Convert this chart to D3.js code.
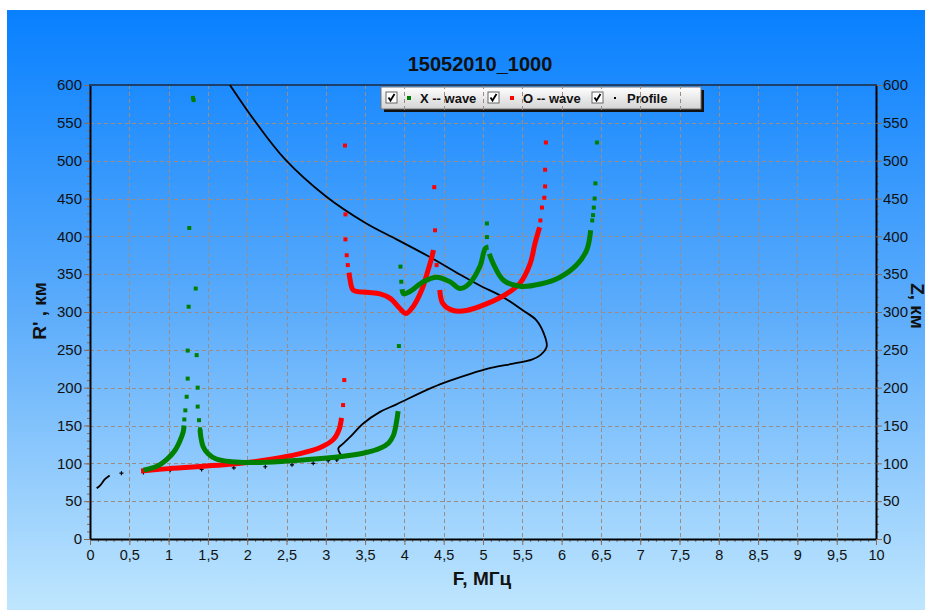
<!DOCTYPE html>
<html>
<head>
<meta charset="utf-8">
<script src="https://cdn.jsdelivr.net/npm/d3@7"></script>
<style>
  body { margin: 0; background: #fff; }
  svg { display: block; font-family: "Liberation Sans", Arial, sans-serif; }
</style>
</head>
<body>
<div id="chart"></div>
<script>
// ---- data (F in MHz, height in km) ----
const title = '15052010_1000';
const xTicks = [0, 0.5, 1, 1.5, 2, 2.5, 3, 3.5, 4, 4.5, 5, 5.5, 6, 6.5, 7, 7.5, 8, 8.5, 9, 9.5, 10];
const xTickLabels = ['0', '0,5', '1', '1,5', '2', '2,5', '3', '3,5', '4', '4,5', '5', '5,5', '6', '6,5', '7', '7,5', '8', '8,5', '9', '9,5', '10'];
const yTicks = [0, 50, 100, 150, 200, 250, 300, 350, 400, 450, 500, 550, 600];

// X -- wave (green)
const xwaveCurve1 = [[0.68, 91], [0.85, 96], [0.975, 105], [1.08, 117], [1.145, 130], [1.187, 142], [1.197, 150]];
const xwaveCurve2 = [[1.40, 145], [1.41, 135], [1.44, 122], [1.5, 113], [1.6, 106], [1.8, 102], [2.1, 101], [2.5, 103],
  [2.9, 106], [3.27, 110], [3.5, 114], [3.69, 120], [3.8, 127], [3.86, 137], [3.9, 155], [3.92, 169]];
const xwaveCurve3 = [[3.97, 330], [3.99, 324], [4.07, 327], [4.24, 340], [4.41, 346], [4.58, 340], [4.71, 331],
  [4.83, 338], [4.96, 360], [5.03, 384], [5.07, 386]];
const xwaveCurve4 = [[5.08, 377], [5.13, 364], [5.26, 342], [5.47, 334], [5.73, 337], [5.98, 346], [6.19, 362],
  [6.32, 382], [6.37, 408]];
const xwaveDots = [[1.2, 158], [1.213, 170], [1.23, 188], [1.243, 212], [1.243, 249], [1.255, 307], [1.263, 411],
  [1.31, 583], [1.318, 580], [1.345, 331], [1.357, 243], [1.37, 200], [1.37, 175], [1.387, 157], [1.40, 145],
  [3.93, 255], [3.95, 360], [3.96, 340], [5.05, 399], [5.05, 417],
  [6.39, 421], [6.40, 428], [6.41, 438], [6.42, 450], [6.43, 470], [6.45, 524]];

// O -- wave (red)
const owaveCurve1 = [[0.65, 90], [1.0, 93], [1.7, 98], [2.0, 101], [2.5, 109], [2.93, 121], [3.1, 132], [3.17, 145], [3.2, 160]];
const owaveCurve2 = [[3.295, 352], [3.31, 342], [3.35, 329], [3.52, 326], [3.69, 324], [3.82, 318], [3.94, 305],
  [4.02, 298], [4.11, 307], [4.22, 329], [4.30, 355], [4.35, 373], [4.37, 382]];
const owaveCurve3 = [[4.45, 329], [4.49, 311], [4.62, 302], [4.79, 302], [5.05, 311], [5.30, 324], [5.47, 338],
  [5.60, 364], [5.66, 390], [5.72, 412]];
const owaveDots = [[3.22, 177], [3.235, 210], [3.244, 520], [3.25, 429], [3.25, 396], [3.266, 375], [3.28, 362],
  [4.39, 408], [4.38, 465], [4.41, 362], [4.43, 346],
  [5.73, 421], [5.75, 438], [5.78, 451], [5.79, 466], [5.79, 488], [5.80, 524]];

// Profile (black)
const profileStart = [[0.085, 67], [0.13, 71], [0.19, 79], [0.25, 84]];
const profileDots = [[0.40, 87], [0.68, 88], [1.02, 91], [1.42, 92], [1.83, 94], [2.23, 95.5], [2.57, 98],
  [2.84, 100], [3.03, 103.5], [3.14, 104.5]];
const profileCurve = [[3.22, 109], [3.18, 113], [3.16, 120], [3.22, 126], [3.31, 135], [3.48, 153], [3.69, 168],
  [3.90, 178], [4.35, 200], [4.6, 210], [4.83, 218], [5.1, 226], [5.4, 232], [5.62, 237], [5.73, 243], [5.81, 254],
  [5.79, 267], [5.68, 289], [5.51, 302], [5.25, 320], [4.96, 335], [4.7, 350], [4.3, 374], [3.9, 396],
  [3.5, 418], [3.0, 453], [2.48, 502], [2.1, 552], [1.78, 600]];

// ---- layout ----
const width = 932, height = 610;
const plot = { left: 90, right: 876, top: 85, bottom: 539 };

const svg = d3.select('#chart').append('svg')
  .attr('width', width)
  .attr('height', height);

const defs = svg.append('defs');
const bg = defs.append('linearGradient').attr('id', 'bg').attr('x1', 0).attr('y1', 0).attr('x2', 0).attr('y2', 1);
bg.append('stop').attr('offset', 0).attr('stop-color', '#0880ff');
bg.append('stop').attr('offset', 0.5).attr('stop-color', '#5cacfb');
bg.append('stop').attr('offset', 1).attr('stop-color', '#bfe6fe');
const lg = defs.append('linearGradient').attr('id', 'lg').attr('x1', 0).attr('y1', 0).attr('x2', 0).attr('y2', 1);
lg.append('stop').attr('offset', 0).attr('stop-color', '#ffffff');
lg.append('stop').attr('offset', 1).attr('stop-color', '#d4d4d4');
defs.append('clipPath').attr('id', 'clip')
  .append('rect')
  .attr('x', plot.left).attr('y', plot.top)
  .attr('width', plot.right - plot.left).attr('height', plot.bottom - plot.top);

svg.append('rect')
  .attr('x', 7).attr('y', 10)
  .attr('width', 918).attr('height', 600)
  .attr('fill', 'url(#bg)');

const x = d3.scaleLinear().domain([0, 10]).range([plot.left, plot.right]);
const y = d3.scaleLinear().domain([0, 600]).range([plot.bottom, plot.top]);

// legend box (drawn under the grid, like the original)
const legend = { x: 381, y: 87, w: 320, h: 22 };
svg.append('rect')
  .attr('x', legend.x + 3).attr('y', legend.y + 3)
  .attr('width', legend.w).attr('height', legend.h)
  .attr('fill', '#111');
svg.append('rect')
  .attr('x', legend.x).attr('y', legend.y)
  .attr('width', legend.w).attr('height', legend.h)
  .attr('fill', 'url(#lg)')
  .attr('stroke', '#777');

// grid
const grid = svg.append('g').attr('class', 'grid')
  .attr('stroke', '#9c8c84').attr('stroke-dasharray', '4,3').attr('stroke-width', 1);
grid.selectAll('.vx').data(xTicks.slice(1, -1)).enter()
  .append('line')
  .attr('x1', d => Math.round(x(d)) + 0.5).attr('x2', d => Math.round(x(d)) + 0.5)
  .attr('y1', plot.top).attr('y2', plot.bottom);
grid.selectAll('.hy').data(yTicks.slice(1, -1)).enter()
  .append('line')
  .attr('y1', d => Math.round(y(d)) + 0.5).attr('y2', d => Math.round(y(d)) + 0.5)
  .attr('x1', plot.left).attr('x2', plot.right);

// axes
function styleAxis(g) {
  g.select('.domain').attr('stroke', '#000').attr('stroke-width', 2);
  g.selectAll('.tick line').attr('stroke', '#8a6a58');
  g.selectAll('.tick text').attr('fill', '#111').style('font-size', '15px');
}

const minorX = d3.range(0, 101).map(i => i / 10);
const minorY = d3.range(0, 61).map(i => i * 10);

svg.append('g').attr('transform', `translate(0,${plot.bottom})`)
  .call(d3.axisBottom(x).tickValues(minorX).tickSize(3).tickFormat(''))
  .call(g => g.select('.domain').remove())
  .call(g => g.selectAll('line').attr('stroke', '#8a6a58'));
svg.append('g').attr('transform', `translate(${plot.left},0)`)
  .call(d3.axisLeft(y).tickValues(minorY).tickSize(3).tickFormat(''))
  .call(g => g.select('.domain').remove())
  .call(g => g.selectAll('line').attr('stroke', '#8a6a58'));
svg.append('g').attr('transform', `translate(${plot.right},0)`)
  .call(d3.axisRight(y).tickValues(minorY).tickSize(3).tickFormat(''))
  .call(g => g.select('.domain').remove())
  .call(g => g.selectAll('line').attr('stroke', '#8a6a58'));

svg.append('g').attr('transform', `translate(0,${plot.bottom})`)
  .call(d3.axisBottom(x).tickValues(xTicks).tickSize(6).tickPadding(5).tickSizeOuter(0)
    .tickFormat((d, i) => xTickLabels[i]))
  .call(styleAxis)
  .call(g => g.selectAll('.tick text').style('font-size', '14.5px'));
svg.append('g').attr('transform', `translate(${plot.left},0)`)
  .call(d3.axisLeft(y).tickValues(yTicks).tickSize(6).tickPadding(2).tickSizeOuter(0))
  .call(styleAxis);
svg.append('g').attr('transform', `translate(${plot.right},0)`)
  .call(d3.axisRight(y).tickValues(yTicks).tickSize(6).tickPadding(1).tickSizeOuter(0))
  .call(styleAxis);

svg.append('line')
  .attr('x1', plot.left - 1).attr('x2', plot.right + 1)
  .attr('y1', plot.top).attr('y2', plot.top)
  .attr('stroke', '#1c3f6c').attr('stroke-width', 2);

// data
const data = svg.append('g').attr('clip-path', 'url(#clip)');
const line = d3.line()
  .x(d => x(d[0]))
  .y(d => y(d[1]))
  .curve(d3.curveCatmullRom.alpha(0.5));

function drawCurves(curves, color, w) {
  data.selectAll(null).data(curves).enter()
    .append('path')
    .attr('d', line)
    .attr('fill', 'none')
    .attr('stroke', color)
    .attr('stroke-width', w)
    .attr('stroke-linejoin', 'round');
}
function drawSquares(dots, color) {
  data.selectAll(null).data(dots).enter()
    .append('rect')
    .attr('x', d => x(d[0]) - 2)
    .attr('y', d => y(d[1]) - 2)
    .attr('width', 4).attr('height', 4)
    .attr('fill', color);
}

drawCurves([profileStart, profileCurve], '#000', 1.8);
data.selectAll('.pdot').data(profileDots).enter()
  .append('path')
  .attr('transform', d => `translate(${x(d[0])},${y(d[1])})`)
  .attr('d', 'M-2,0H2M0,-2V2')
  .attr('stroke', '#000')
  .attr('stroke-width', 1.2);

drawCurves([owaveCurve1, owaveCurve2, owaveCurve3], '#ff0000', 5);
drawSquares(owaveDots, '#ff0000');
drawCurves([xwaveCurve1, xwaveCurve2, xwaveCurve3, xwaveCurve4], '#008000', 5);
drawSquares(xwaveDots, '#008000');

// legend content
const items = [
  { cb: 386, mark: 409, text: 420, label: 'X -- wave', color: '#008000', kind: 'square' },
  { cb: 488, mark: 512, text: 523, label: 'O -- wave', color: '#ff0000', kind: 'square' },
  { cb: 592, mark: 615, text: 627, label: 'Profile', color: '#000', kind: 'dot' }
];
const li = svg.append('g').selectAll('g').data(items).enter().append('g');
li.append('rect')
  .attr('x', d => d.cb).attr('y', 92)
  .attr('width', 11).attr('height', 11)
  .attr('fill', '#fff').attr('stroke', '#666');
li.append('path')
  .attr('d', d => `M${d.cb + 2.5},${97.5}L${d.cb + 4.5},${100.5}L${d.cb + 8.5},${94}`)
  .attr('fill', 'none').attr('stroke', '#000').attr('stroke-width', 1.8);
li.append('rect')
  .attr('x', d => d.mark - (d.kind === 'dot' ? 1 : 2))
  .attr('y', d => 98 - (d.kind === 'dot' ? 1 : 2))
  .attr('width', d => d.kind === 'dot' ? 2 : 4)
  .attr('height', d => d.kind === 'dot' ? 2 : 4)
  .attr('fill', d => d.color);
li.append('text')
  .attr('x', d => d.text).attr('y', 102.5)
  .style('font-size', '13px').style('font-weight', 'bold')
  .attr('fill', '#111')
  .text(d => d.label);

// titles
svg.append('text')
  .attr('x', 480).attr('y', 71)
  .attr('text-anchor', 'middle')
  .style('font-size', '20px').style('font-weight', 'bold')
  .attr('fill', '#111')
  .text(title);

svg.append('text')
  .attr('x', 482).attr('y', 585)
  .attr('text-anchor', 'middle')
  .style('font-size', '19px').style('font-weight', 'bold')
  .attr('fill', '#111')
  .text('F, МГц');

svg.append('text')
  .attr('transform', 'translate(46,311) rotate(-90)')
  .attr('text-anchor', 'middle')
  .style('font-size', '19px').style('font-weight', 'bold')
  .attr('fill', '#111')
  .text("R' , км");

svg.append('text')
  .attr('transform', 'translate(911,306) rotate(90)')
  .attr('text-anchor', 'middle')
  .style('font-size', '19px').style('font-weight', 'bold')
  .attr('fill', '#111')
  .text('Z, км');
</script>
</body>
</html>
